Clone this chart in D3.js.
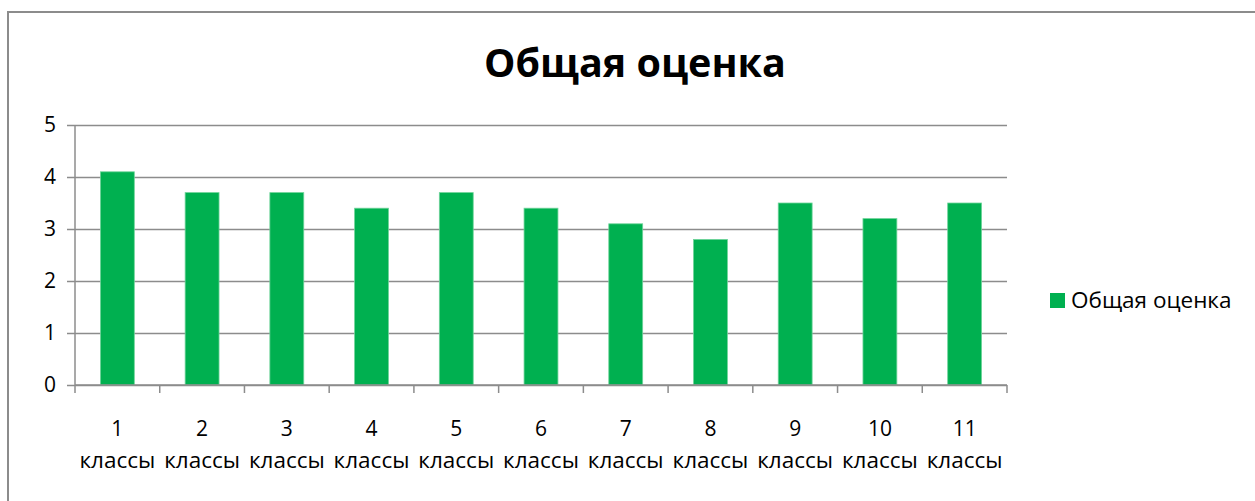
<!DOCTYPE html>
<html>
<head>
<meta charset="utf-8">
<script src="https://cdn.jsdelivr.net/npm/d3@7"></script>
<style>
  html, body { margin: 0; padding: 0; background: #fff; }
  svg { display: block; font-family: "Open Sans", sans-serif; }
</style>
</head>
<body>
<svg id="chart" width="1255" height="501"></svg>
<script>
// Grade categories and the overall score for each
const categories = ["1 классы", "2 классы", "3 классы", "4 классы", "5 классы", "6 классы",
                    "7 классы", "8 классы", "9 классы", "10 классы", "11 классы"];
const scores = [4.1, 3.7, 3.7, 3.4, 3.7, 3.4, 3.1, 2.8, 3.5, 3.2, 3.5];
const yTicks = [0, 1, 2, 3, 4, 5];
const seriesName = "Общая оценка";
const chartTitle = "Общая оценка";

const FONT = "'Open Sans', sans-serif";
const svg = d3.select("#chart");
const plot = { left: 75, right: 1007, top: 125, bottom: 385 };

// outer chart frame (runs off the right and bottom edges)
svg.append("rect")
  .attr("x", 8).attr("y", 12)
  .attr("width", 1300).attr("height", 600)
  .attr("fill", "#fff")
  .attr("stroke", "#8c8c8c").attr("stroke-width", 2);

const x = d3.scaleBand().domain(categories).range([plot.left, plot.right]).paddingInner(0).paddingOuter(0);
const y = d3.scaleLinear().domain([0, 5]).range([plot.bottom, plot.top]);

// horizontal gridlines with tick marks to the left
const yAxis = d3.axisLeft(y).tickValues(yTicks).tickFormat(d3.format("d"))
  .tickSize(-(plot.right - plot.left)).tickPadding(19);
const gy = svg.append("g").attr("transform", `translate(${plot.left},0)`).call(yAxis);
gy.select(".domain").remove();
gy.selectAll(".tick line")
  .attr("x1", -8)
  .attr("stroke", "#8c8c8c").attr("stroke-width", 1.5);
gy.selectAll(".tick text")
  .attr("font-size", 21).attr("fill", "#000")
  .attr("font-family", FONT);

// vertical axis line
svg.append("line")
  .attr("x1", plot.left).attr("x2", plot.left)
  .attr("y1", plot.top).attr("y2", plot.bottom)
  .attr("stroke", "#8c8c8c").attr("stroke-width", 1.5);

// bars
const barW = x.bandwidth() * 0.4;
svg.append("g").selectAll("rect")
  .data(categories)
  .join("rect")
  .attr("x", (d) => x(d) + (x.bandwidth() - barW) / 2)
  .attr("y", (d, i) => y(scores[i]))
  .attr("width", barW)
  .attr("height", (d, i) => y(0) - y(scores[i]))
  .attr("fill", "#00b050")
  .attr("stroke", "#6fd49a").attr("stroke-width", 0.8);

// category axis: baseline, boundary ticks and two-line labels
svg.append("line")
  .attr("x1", plot.left).attr("x2", plot.right)
  .attr("y1", plot.bottom).attr("y2", plot.bottom)
  .attr("stroke", "#8c8c8c").attr("stroke-width", 1.5);
const bounds = categories.map((d) => x(d)).concat([plot.right]);
svg.append("g").selectAll("line")
  .data(bounds)
  .join("line")
  .attr("x1", (d) => d).attr("x2", (d) => d)
  .attr("y1", plot.bottom).attr("y2", plot.bottom + 8)
  .attr("stroke", "#8c8c8c").attr("stroke-width", 1.5);

const labels = svg.append("g").selectAll("text")
  .data(categories)
  .join("text")
  .attr("text-anchor", "middle")
  .attr("fill", "#000");
labels.each(function (d) {
  const parts = d.split(" ");
  const t = d3.select(this);
  const cx = x(d) + x.bandwidth() / 2;
  t.append("tspan").attr("x", cx).attr("y", 436).attr("font-size", 21).text(parts[0]);
  t.append("tspan").attr("x", cx).attr("y", 468).attr("font-size", 22.5).text(parts[1]);
});

// title
svg.append("text")
  .attr("x", 635).attr("y", 77)
  .attr("text-anchor", "middle")
  .attr("font-size", 39.5).attr("font-weight", "bold").attr("fill", "#000")
  .text(chartTitle);

// legend
svg.append("rect")
  .attr("x", 1050).attr("y", 293).attr("width", 15).attr("height", 15)
  .attr("fill", "#00b050");
svg.append("text")
  .attr("x", 1071).attr("y", 308)
  .attr("font-size", 22.5).attr("fill", "#000")
  .text(seriesName);
</script>
</body>
</html>
